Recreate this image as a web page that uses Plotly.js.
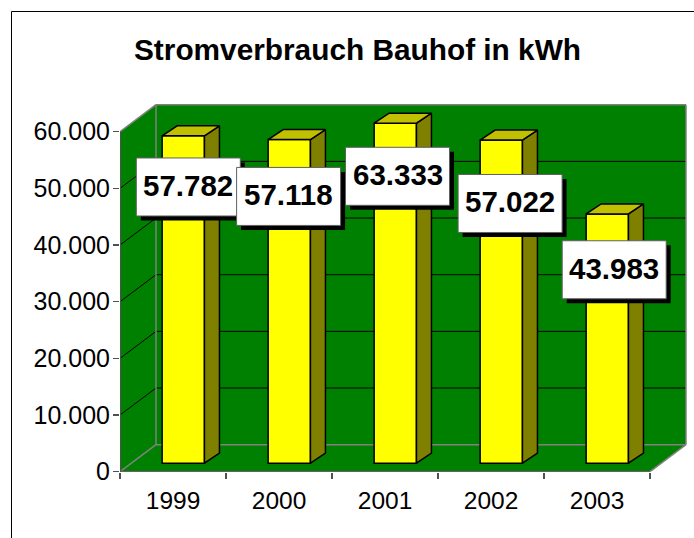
<!DOCTYPE html>
<html>
<head>
<meta charset="utf-8">
<script src="https://cdn.plot.ly/plotly-3.0.1.min.js"></script>
<style>html,body{margin:0;padding:0;background:#fff}</style>
</head>
<body>
<div id="chart" style="width:694px;height:538px"></div>
<script>
// Data
var categories = ['1999', '2000', '2001', '2002', '2003'];
var values = [57782, 57118, 63333, 57022, 43983];
var valueTicks = [0, 10000, 20000, 30000, 40000, 50000, 60000];
var axisMax = 60000;
var titleText = 'Stromverbrauch Bauhof in kWh';

// Data-label placement relative to the bar top centre (pixels)
var labelDx = [5, -0.7, 2.2, 8.8, 6.9];
var labelDy = [51.2, 56.9, 53.1, 63.4, 55.8];

// Geometry
var W = 694, H = 538;
var plotL = 120, plotR = 692, plotB = 471.7, plotT = 98;
var catPx = 106, valPx = 340 / 60000;
var xUnits = function (p) { return p / catPx; };
var yUnits = function (p) { return p / valPx; };
var wallDx = xUnits(36), wallDy = yUnits(27);
var barShiftX = xUnits(10.3), barBase = yUnits(8.5);
var barW = xUnits(42.3), sideDx = xUnits(15), sideDy = yUnits(10);
var n = categories.length;
var FONT = '"Liberation Sans", Arial, sans-serif';
var GREEN = '#008000', GRAY = '#808080', DARK = '#505050';

var centers = categories.map(function (_, i) { return i + 0.5 + barShiftX; });
var clipped = values.map(function (v) { return Math.min(v, axisMax); });
var tops = clipped.map(function (v) { return v + barBase; });

function poly(pts) {
  return 'M' + pts.map(function (p) { return p[0] + ',' + p[1]; }).join('L') + 'Z';
}
function seg(x0, y0, x1, y1, color, width) {
  return { type: 'line', xref: 'x', yref: 'y', x0: x0, y0: y0, x1: x1, y1: y1,
           line: { color: color, width: width }, layer: 'below' };
}

var shapes = [];
// Walls and floor
[
  [[wallDx, wallDy], [n + wallDx, wallDy], [n + wallDx, axisMax + wallDy], [wallDx, axisMax + wallDy]],
  [[0, 0], [wallDx, wallDy], [wallDx, axisMax + wallDy], [0, axisMax]],
  [[0, 0], [n, 0], [n + wallDx, wallDy], [wallDx, wallDy]]
].forEach(function (pts) {
  shapes.push({ type: 'path', xref: 'x', yref: 'y', layer: 'below', fillcolor: GREEN,
    line: { width: 0 }, path: poly(pts) });
});
// Gridlines
valueTicks.slice(1, -1).forEach(function (v) {
  shapes.push(seg(0, v, wallDx, v + wallDy, '#000', 1));
  shapes.push(seg(wallDx, v + wallDy, n + wallDx, v + wallDy, '#000', 1));
});
// Wall edges
shapes.push(seg(wallDx, wallDy, wallDx, axisMax + wallDy, GRAY, 1.5));
shapes.push(seg(wallDx, axisMax + wallDy, n + wallDx, axisMax + wallDy, GRAY, 1.5));
shapes.push(seg(n + wallDx, wallDy, n + wallDx, axisMax + wallDy, GRAY, 1.5));
shapes.push(seg(wallDx, wallDy, n + wallDx, wallDy, GRAY, 1.5));
shapes.push(seg(0, 0, wallDx, wallDy, GRAY, 1.5));
shapes.push(seg(0, axisMax, wallDx, axisMax + wallDy, GRAY, 1.5));
shapes.push(seg(n, 0, n + wallDx, wallDy, GRAY, 1.5));
// Front axis lines
shapes.push(seg(0, 0, 0, axisMax, DARK, 2));
shapes.push(seg(0, 0, n, 0, DARK, 2));
// Outer chart frame
var paperX = function (p) { return p / W; };
var paperY = function (p) { return 1 - p / H; };
shapes.push({ type: 'line', xref: 'paper', yref: 'paper', x0: paperX(11.5), x1: paperX(11.5),
  y0: paperY(11.5), y1: paperY(540), line: { color: '#000', width: 1 } });
shapes.push({ type: 'line', xref: 'paper', yref: 'paper', x0: paperX(11.5), x1: paperX(696),
  y0: paperY(11.5), y1: paperY(11.5), line: { color: '#000', width: 1 } });

// Label shadows, then boxes (each box and its shadow are drawn in bar order)
var boxW = 104, boxH = 58, shadow = 4.5, textLift = 1.5;
function labelRect(i, dx, dy, fill, line) {
  var cx = labelDx[i] + dx, cy = -labelDy[i] + dy;
  return { type: 'rect', layer: 'above', xref: 'x', yref: 'y',
    xsizemode: 'pixel', ysizemode: 'pixel', xanchor: centers[i], yanchor: tops[i],
    x0: cx - boxW / 2, x1: cx + boxW / 2, y0: cy - boxH / 2, y1: cy + boxH / 2,
    fillcolor: fill, line: line };
}
values.forEach(function (_, i) {
  shapes.push(labelRect(i, shadow, -shadow, '#000', { width: 0 }));
});
values.forEach(function (_, i) {
  shapes.push(labelRect(i, 0, 0, '#fff', { color: '#606060', width: 1 }));
});

// Traces
var traces = [{
  type: 'bar', x: centers, y: clipped, base: barBase, width: barW,
  marker: { color: '#ffff00', line: { color: '#000', width: 1.5 } },
  hoverinfo: 'skip', showlegend: false
}];
function face(pts, color) {
  traces.push({ type: 'scatter', mode: 'lines', fill: 'toself', fillcolor: color,
    x: pts.map(function (p) { return p[0]; }), y: pts.map(function (p) { return p[1]; }),
    line: { color: '#000', width: 1.5 }, hoverinfo: 'skip', showlegend: false });
}
centers.forEach(function (c, i) {
  var xr = c + barW / 2, xl = c - barW / 2, t = tops[i];
  face([[xr, barBase], [xr + sideDx, barBase + sideDy], [xr + sideDx, t + sideDy], [xr, t], [xr, barBase]], '#808000');
  face([[xl, t], [xr, t], [xr + sideDx, t + sideDy], [xl + sideDx, t + sideDy], [xl, t]], '#c0c000');
});

// Value labels
var annotations = values.map(function (v, i) {
  var s = String(v);
  var txt = s.slice(0, s.length - 3) + '.' + s.slice(-3);
  return {
    xref: 'x', yref: 'y', x: centers[i], y: tops[i],
    xshift: labelDx[i], yshift: -labelDy[i] + textLift,
    text: '<b>' + txt + '</b>', showarrow: false, xanchor: 'center', yanchor: 'middle',
    font: { family: FONT, size: 29.5, color: '#000' }
  };
});

var layout = {
  width: W, height: H,
  margin: { l: 0, r: 0, t: 0, b: 0, pad: 0 },
  paper_bgcolor: '#fff', plot_bgcolor: 'rgba(0,0,0,0)',
  showlegend: false,
  separators: ',.',
  title: { text: '<b>' + titleText + '</b>', xref: 'paper', yref: 'paper',
    x: 357.5 / W, y: 1 - 50 / H, xanchor: 'center', yanchor: 'middle',
    font: { family: FONT, size: 29.8, color: '#000' } },
  xaxis: {
    domain: [plotL / W, plotR / W],
    range: [0, (plotR - plotL) / catPx],
    tickmode: 'array',
    tickvals: categories.map(function (_, i) { return i + 0.5; }),
    ticktext: categories,
    ticks: '', ticklen: 6, showgrid: false, zeroline: false, showline: false,
    ticklabelstandoff: 12,
    minor: { tickmode: 'array', tickvals: categories.map(function (_, i) { return i; }).concat([n]),
      ticks: 'outside', ticklen: 6, tickwidth: 1.5, tickcolor: DARK, showgrid: false },
    tickfont: { family: FONT, size: 24.5, color: '#000' },
    fixedrange: true
  },
  yaxis: {
    domain: [1 - plotB / H, 1 - plotT / H],
    range: [0, (plotB - plotT) / valPx],
    tickmode: 'array', tickvals: valueTicks, tickformat: ',d',
    ticks: 'outside', ticklen: 6, tickwidth: 1.5, tickcolor: DARK,
    ticklabelstandoff: -2,
    showgrid: false, zeroline: false, showline: false,
    tickfont: { family: FONT, size: 25, color: '#000' },
    fixedrange: true
  },
  shapes: shapes,
  annotations: annotations,
  bargap: 0
};

Plotly.newPlot('chart', traces, layout, { displayModeBar: false, staticPlot: true });
</script>
</body>
</html>
